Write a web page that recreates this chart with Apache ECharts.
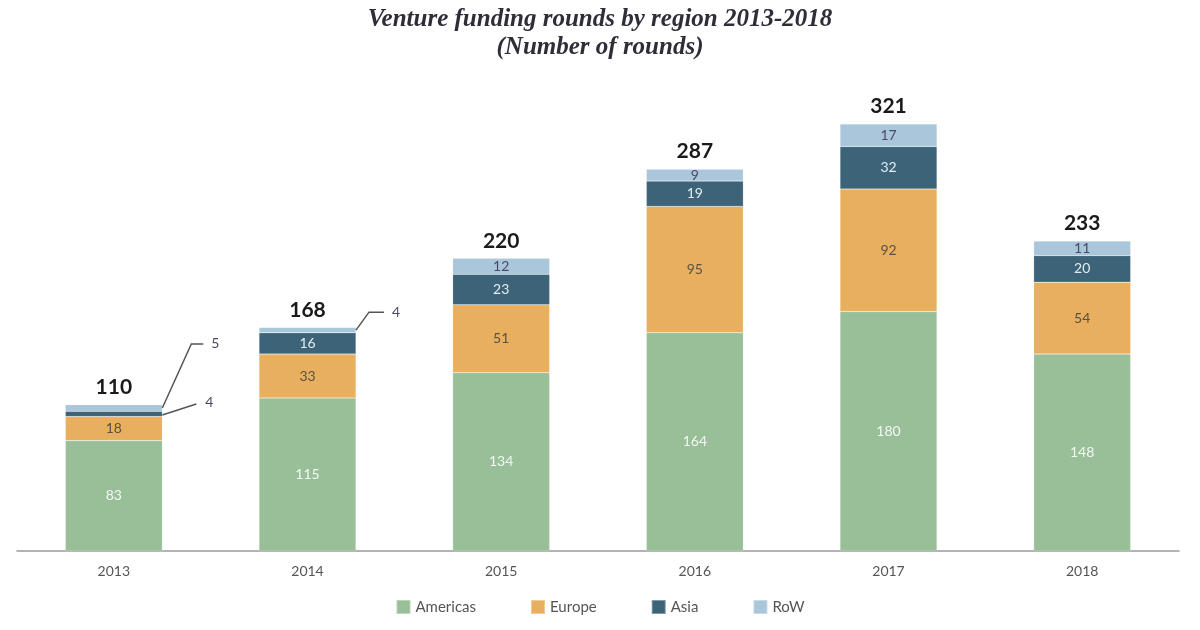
<!DOCTYPE html>
<html><head><meta charset="utf-8">
<script src="https://cdn.jsdelivr.net/npm/echarts@6/dist/echarts.min.js"></script>
<style>html,body{margin:0;padding:0;background:#fff}#c{width:1200px;height:630px}</style>
</head><body><div id="c"></div>
<script>
const categories = ['2013','2014','2015','2016','2017','2018'];
const americas = [83,115,134,164,180,148];
const europe = [18,33,51,95,92,54];
const asia = [4,16,23,19,32,20];
const row = [5,4,12,9,17,11];
const totals = [110,168,220,287,321,233];
// small segments labelled outside with a leader line: [categoryIndex, series]
const callouts = [[0,'RoW'],[0,'Asia'],[1,'RoW']];

const seriesData = {Americas: americas, Europe: europe, Asia: asia, RoW: row};
const order = ['Americas','Europe','Asia','RoW'];
const colors = {Americas:'#98BF98', Europe:'#E8AF5F', Asia:'#3D6378', RoW:'#A9C6DA'};
const labelColors = {Americas:'#F4F7F4', Europe:'#5A5242', Asia:'#E4ECF2', RoW:'#4A4A66'};
const isCallout = (i, name) => callouts.some(c => c[0] === i && c[1] === name);

const chart = echarts.init(document.getElementById('c'));
const font = 'Lato, "Noto Sans", sans-serif';

const barSeries = order.map(name => ({
  name, type: 'bar', stack: 'total', barWidth: 97,
  itemStyle: {color: colors[name], borderColor: 'rgba(255,255,255,0.35)', borderWidth: 0.5},
  data: seriesData[name].map((v, i) => ({
    value: v,
    label: {show: !isCallout(i, name)}
  })),
  label: {show: true, position: 'inside', color: labelColors[name], fontSize: 14, fontFamily: font},
  emphasis: {disabled: true}
}));

// callout leader lines and labels (custom series, placed through the axes)
const calloutStyle = {
  '0|RoW':  {pts: [[0,0],[29,-64],[41,-64]], text:[53,-64]},
  '0|Asia': {pts: [[0,1],[34,-10]], text:[47,-11]},
  '1|RoW':  {pts: [[0,0],[13,-18],[28,-18]], text:[40,-18]}
};
const calloutData = callouts.map(([i, name]) => {
  let cum = 0;
  for (const n of order) { if (n === name) break; cum += seriesData[n][i]; }
  return [i, cum + seriesData[name][i] / 2, seriesData[name][i], i + '|' + name];
});

const totalSeries = {
  name: 'Total', type: 'custom',
  data: totals.map((t, i) => [i, t]),
  renderItem: (params, api) => {
    const p = api.coord([api.value(0), api.value(1)]);
    return {type: 'text', style: {x: p[0], y: p[1] - 7, text: String(api.value(1)),
      align: 'center', verticalAlign: 'bottom', fill: '#1a1a1a',
      font: 'bold 21px ' + font}};
  },
  z: 10, silent: true
};

const calloutSeries = {
  name: 'Callouts', type: 'custom',
  data: calloutData,
  renderItem: (params, api) => {
    const i = api.value(0);
    const p = api.coord([i, api.value(1)]);
    const bw = api.size([1, 0])[0] * 97 / 193.7;
    const x0 = p[0] + bw / 2, y0 = p[1];
    const st = calloutStyle[calloutData[params.dataIndex][3]];
    return {type: 'group', children: [
      {type: 'polyline', shape: {points: st.pts.map(q => [x0 + q[0], y0 + q[1]])},
       style: {stroke: '#555', lineWidth: 1.5, fill: null}},
      {type: 'text', style: {x: x0 + st.text[0], y: y0 + st.text[1], text: String(api.value(2)),
       align: 'center', verticalAlign: 'middle', fill: '#4A4A66', font: '14px ' + font}}
    ]};
  },
  z: 10, silent: true
};

chart.setOption({
  animation: false,
  title: {
    text: 'Venture funding rounds by region 2013-2018\n(Number of rounds)',
    left: 'center', top: 1,
    textStyle: {fontFamily: '"Liberation Serif", "DejaVu Serif", serif', fontStyle: 'italic',
      fontWeight: 'bold', fontSize: 25, color: '#2e2e38', lineHeight: 28}
  },
  legend: {
    data: order, bottom: 10, left: 'center', itemWidth: 14, itemHeight: 14, itemGap: 54,
    icon: 'rect',
    textStyle: {fontFamily: font, fontSize: 15, color: '#555'}
  },
  grid: {left: 17, right: 21, top: 72, bottom: 79},
  xAxis: {
    type: 'category', data: categories,
    axisLine: {lineStyle: {color: '#9a9a9a', width: 1.5}},
    axisTick: {show: false},
    axisLabel: {fontFamily: font, fontSize: 14, color: '#555', margin: 13}
  },
  yAxis: {type: 'value', min: 0, max: 360, show: false, splitLine: {show: false}},
  series: [...barSeries, totalSeries, calloutSeries]
});
</script></body></html>
